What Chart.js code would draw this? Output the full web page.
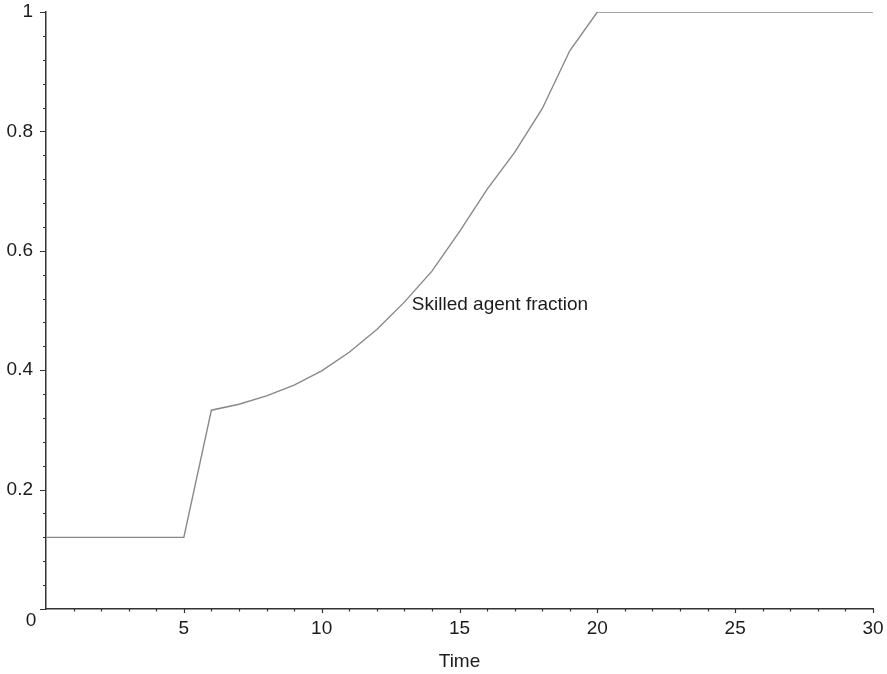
<!DOCTYPE html>
<html>
<head>
<meta charset="utf-8">
<script src="https://cdn.jsdelivr.net/npm/chart.js@4.4.1/dist/chart.umd.min.js"></script>
<style>
    html, body { margin: 0; padding: 0; background: #fff; }
    #wrap { width: 887px; height: 674px; }
</style>
</head>
<body>
<div id="wrap"><canvas id="fractionChart" width="887" height="674"></canvas></div>
<script>
// data
const times = [0, 1, 2, 3, 4, 5, 6, 7, 8, 9, 10, 11, 12, 13, 14, 15,
               16, 17, 18, 19, 20, 21, 22, 23, 24, 25, 26, 27, 28, 29, 30];
const skilledFraction = [0.12, 0.12, 0.12, 0.12, 0.12, 0.12, 0.333, 0.343, 0.357, 0.375, 0.399,
                         0.430, 0.468, 0.514, 0.566, 0.632, 0.703, 0.765, 0.838, 0.935, 1,
                         1, 1, 1, 1, 1, 1, 1, 1, 1, 1];
const xTickLabels = [5, 10, 15, 20, 25, 30];
const yTickLabels = [0.2, 0.4, 0.6, 0.8, 1];
const seriesLabel = 'Skilled agent fraction';
const labelAt = { x: 13.27, y: 0.509 };

const FONT = '"Liberation Sans", Arial, Helvetica, sans-serif';
const FONT_SIZE = 19;
const INK = '#1c1c1c';

// small tick marks, the corner "0" and the curve label
const axisDecor = {
    id: 'axisDecor',
    afterDraw(chart) {
        const ctx = chart.ctx;
        const xs = chart.scales.x, ys = chart.scales.y;
        const area = chart.chartArea;
        ctx.save();
        ctx.strokeStyle = '#333';
        ctx.lineWidth = 1.2;
        ctx.beginPath();
        for (let v = 1; v <= 30; v++) {
            const px = Math.round(xs.getPixelForValue(v)) + 0.5;
            const len = v % 5 === 0 ? 4 : 2.5;
            ctx.moveTo(px, area.bottom);
            ctx.lineTo(px, area.bottom + len);
        }
        for (let i = 0; i <= 25; i++) {
            const py = Math.round(ys.getPixelForValue(i * 0.04)) + 0.5;
            const len = i % 5 === 0 ? 6 : 3;
            ctx.moveTo(area.left, py);
            ctx.lineTo(area.left - len, py);
        }
        ctx.stroke();

        ctx.fillStyle = INK;
        ctx.font = FONT_SIZE + 'px ' + FONT;
        ctx.textAlign = 'center';
        ctx.textBaseline = 'middle';
        ctx.fillText('0', area.left - 15, area.bottom + 12);

        ctx.textAlign = 'left';
        ctx.fillText(seriesLabel, xs.getPixelForValue(labelAt.x), ys.getPixelForValue(labelAt.y));
        ctx.restore();
    }
};

const ctx = document.getElementById('fractionChart').getContext('2d');
new Chart(ctx, {
    type: 'line',
    data: {
        datasets: [{
            label: seriesLabel,
            data: times.map((t, i) => ({ x: t, y: skilledFraction[i] })),
            borderColor: '#888888',
            borderWidth: 1.4,
            pointRadius: 0,
            tension: 0,
            fill: false
        }]
    },
    options: {
        responsive: false,
        animation: false,
        layout: { padding: { top: 12, right: 14, left: 0, bottom: 1 } },
        plugins: { legend: { display: false }, tooltip: { enabled: false } },
        scales: {
            x: {
                type: 'linear',
                min: 0, max: 30,
                afterFit(scale) {
                    scale.height = 64;
                    scale.paddingLeft = 0;
                    scale.paddingRight = 0;
                },
                border: { display: true, color: '#333', width: 1.5 },
                grid: { display: false, drawTicks: false },
                ticks: {
                    stepSize: 5,
                    padding: 8,
                    color: INK,
                    font: { family: FONT, size: FONT_SIZE },
                    maxRotation: 0,
                    callback: v => xTickLabels.includes(v) ? String(v) : ''
                },
                title: {
                    display: true,
                    text: 'Time',
                    color: INK,
                    font: { family: FONT, size: FONT_SIZE },
                    padding: { top: 0, bottom: 0 }
                }
            },
            y: {
                min: 0, max: 1,
                afterFit(scale) {
                    scale.width = 46;
                    scale.paddingTop = 0;
                    scale.paddingBottom = 0;
                },
                border: { display: true, color: '#333', width: 1.5 },
                grid: { display: false, drawTicks: false },
                ticks: {
                    stepSize: 0.2,
                    padding: 13,
                    color: INK,
                    font: { family: FONT, size: FONT_SIZE },
                    callback: v => {
                        const r = Math.round(v * 10) / 10;
                        return yTickLabels.includes(r) ? String(r) : '';
                    }
                }
            }
        }
    },
    plugins: [axisDecor]
});
</script>
</body>
</html>
